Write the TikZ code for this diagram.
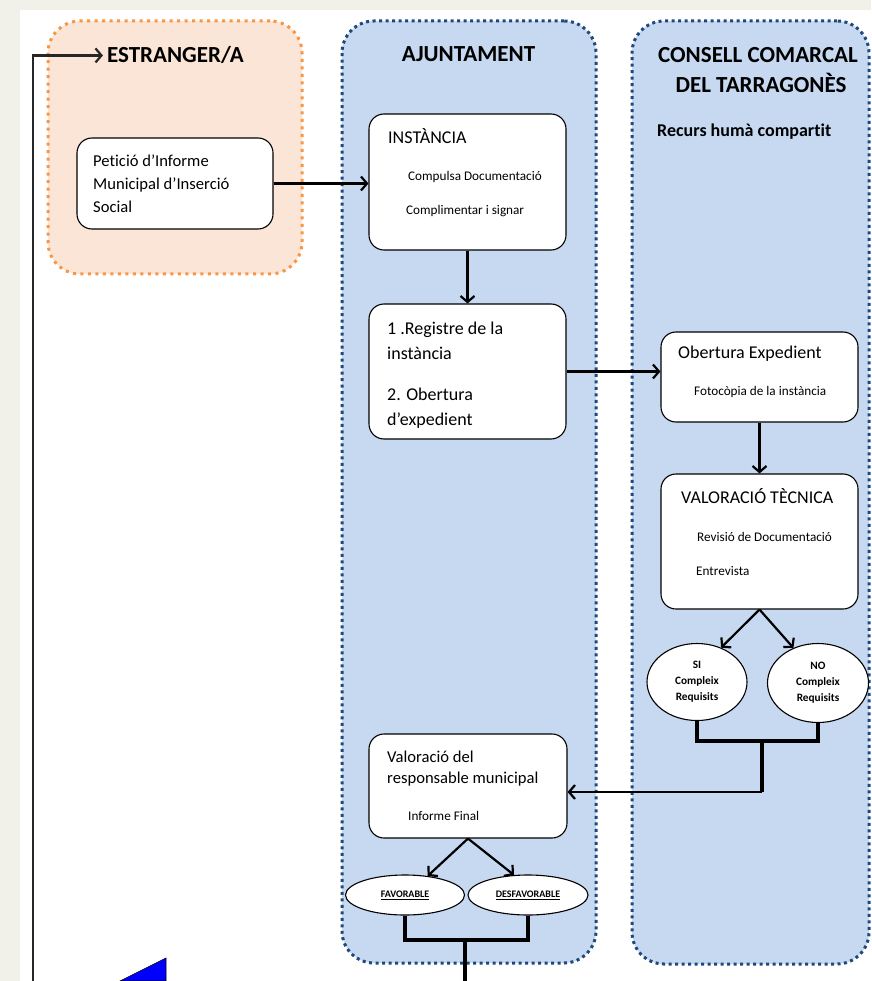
\documentclass[tikz,border=0pt]{standalone}
\usepackage{fontspec}
\setmainfont{Carlito}[Ligatures={NoCommon}]
\usetikzlibrary{arrows.meta,shapes.geometric,calc}
\definecolor{bgbeige}{HTML}{F1F1EA}
\definecolor{peach}{HTML}{FBE5D6}
\definecolor{orangedot}{HTML}{F79646}
\definecolor{lightblue}{HTML}{C6D9F1}
\definecolor{bluedot}{HTML}{1F497D}
\tikzset{
  lane/.style={rectangle, rounded corners=32pt, line width=3pt, inner sep=0pt},
  hdr/.style={anchor=base, inner sep=0pt, font=\fontsize{23}{27}\selectfont\bfseries},
  box/.style={rectangle, draw=black, line width=1.1pt, fill=white, rounded corners=15pt, inner sep=0pt},
  big/.style={anchor=base west, inner sep=0pt, font=\fontsize{18}{21}\selectfont},
  mid/.style={anchor=base west, inner sep=0pt, font=\fontsize{16.6}{20}\selectfont},
  small/.style={anchor=base west, inner sep=0pt, font=\fontsize{13.2}{16}\selectfont},
  ell/.style={ellipse, draw=black, line width=1.1pt, fill=white, inner sep=0pt, align=center},
  arr/.style={line width=2.2pt, -{Straight Barb[length=6pt,width=14pt]}},
  brk/.style={line width=3.2pt},
}
\begin{document}
\begin{tikzpicture}[x=1pt,y=-1pt]
\path[fill=bgbeige] (0,0) rectangle (871,981);
\useasboundingbox (0,0) rectangle (871,981);
\fill[white] (20,10) rectangle (871,981);

% lanes
\node[lane, fill=peach, draw=orangedot, dash pattern=on 3pt off 4.5pt, minimum width=254pt, minimum height=253pt] (estr) at (175,147.5) {};
\node[lane, fill=lightblue, draw=bluedot, dash pattern=on 3pt off 3.5pt, minimum width=254pt, minimum height=942pt] (ajun) at (469,492) {};
\node[lane, fill=lightblue, draw=bluedot, dash pattern=on 3pt off 3.5pt, minimum width=237pt, minimum height=943pt] (cons) at (750.5,492.5) {};

% headers
\node[hdr] (hestr) at (175.5,63) {ESTRANGER/A};
\node[hdr] (hajun) at (468.5,62) {AJUNTAMENT};
\node[hdr] (hcons1) at (758,63) {CONSELL COMARCAL};
\node[hdr] (hcons2) at (761,93) {DEL TARRAGONÈS};
\node[anchor=base west, inner sep=0pt, font=\fontsize{18}{21}\selectfont\bfseries] (recurs) at (657,137) {Recurs humà compartit};

% boxes
\node[box, minimum width=196pt, minimum height=91pt] (pet) at (175,183.5) {};
\node[mid] (pet1) at (93,167) {Petició d’Informe};
\node[mid] (pet2) at (93,190) {Municipal d’Inserció};
\node[mid] (pet3) at (93,213) {Social};

\node[box, minimum width=197pt, minimum height=136pt] (inst) at (467.5,182) {};
\node[big] (inst1) at (388,144) {INSTÀNCIA};
\node[small] (inst2) at (408,181) {Compulsa Documentació};
\node[small] (inst3) at (406,215) {Complimentar i signar};

\node[box, minimum width=197pt, minimum height=135pt] (reg) at (467.5,371.5) {};
\node[big] (reg1) at (387,334) {1 .Registre de la};
\node[big] (reg2) at (387,359) {instància};
\node[big] (reg3) at (387,400) {2. Obertura};
\node[big] (reg4) at (387,425) {d’expedient};

\node[box, minimum width=197pt, minimum height=90pt] (obe) at (759.5,377) {};
\node[big] (obe1) at (678,358) {Obertura Expedient};
\node[small] (obe2) at (694,395) {Fotocòpia de la instància};

\node[box, minimum width=197pt, minimum height=135pt] (valt) at (759.5,541.5) {};
\node[big] (valt1) at (681,503) {VALORACIÓ TÈCNICA};
\node[small] (valt2) at (697,541) {Revisió de Documentació};
\node[small] (valt3) at (696,575) {Entrevista};

\node[ell, minimum width=100pt, minimum height=77pt, font=\fontsize{11.3}{16}\selectfont\bfseries] (si) at (697,682) {SI\\Compleix\\Requisits};
\node[ell, minimum width=101pt, minimum height=79pt, font=\fontsize{11.3}{16}\selectfont\bfseries] (no) at (818,683) {NO\\Compleix\\Requisits};

\node[box, minimum width=198pt, minimum height=104pt] (valr) at (468,786) {};
\node[mid] (valr1) at (387,762) {Valoració del};
\node[mid] (valr2) at (387,783) {responsable municipal};
\node[small] (valr3) at (408,820) {Informe Final};

\node[ell, minimum width=119pt, minimum height=40pt, font=\fontsize{10}{11}\selectfont\bfseries] (fav) at (405,895) {\underline{FAVORABLE}};
\node[ell, minimum width=120pt, minimum height=40pt, font=\fontsize{10}{11}\selectfont\bfseries] (desf) at (528,895) {\underline{DESFAVORABLE}};

% connectors
\draw[arr] (pet.east) -- (pet.east -| inst.west);
\draw[arr] (inst.south) -- (reg.north);
\draw[arr] (reg.east) -- (reg.east -| obe.west);
\draw[arr] (obe.south) -- (valt.north);
\draw[arr] (valt.south) -- (si.55);
\draw[arr] (valt.south) -- (no.125);

\coordinate (j1) at (762,741);
\coordinate (j2) at (762,792);
\draw[brk] (si.south) |- (j1) -| (no.south);
\draw[brk] (j1) -- (j2);
\draw[arr] (j2) -- (valr.east |- j2);

\draw[arr] (valr.south) -- (fav.40);
\draw[arr] (valr.south) -- (desf.125);

\coordinate (j3) at (465,940);
\coordinate (bot) at (465,982);
\draw[brk] (fav.south) |- (j3) -| (desf.south);
\draw[brk] (j3) -- (bot);

% feedback line
\coordinate (fb) at (33,982);
\draw[arr, draw=black!85] (fb) |- ([xshift=-4pt]hestr.west);

% blue triangle
\draw[fill=blue, line width=0.6pt] (120,981) -- (166,958) -- (166,981) -- cycle;
\end{tikzpicture}
\end{document}
